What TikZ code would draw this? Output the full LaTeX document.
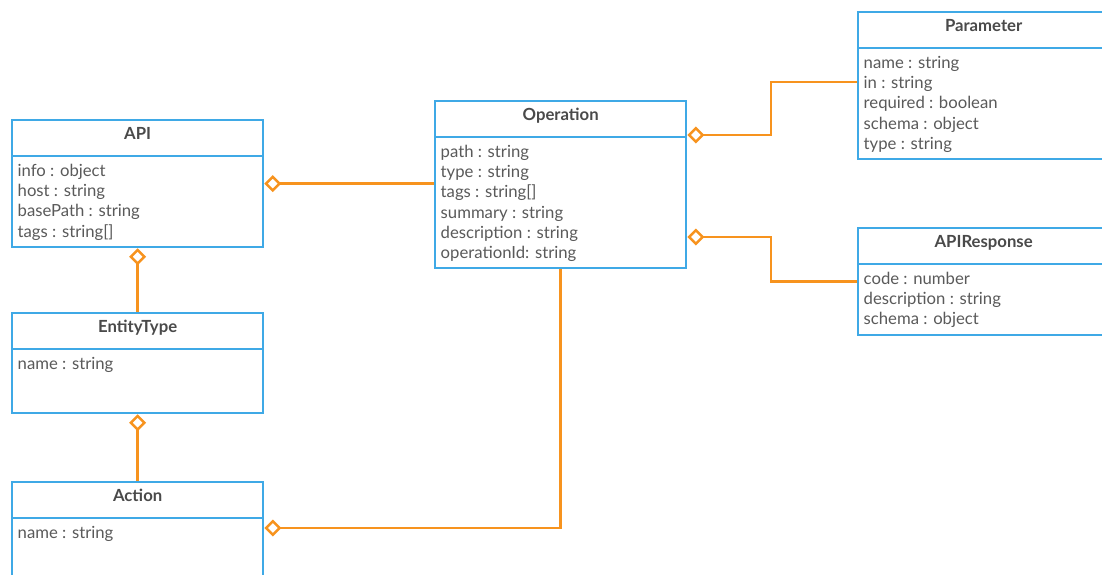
\documentclass[tikz,border=0pt]{standalone}
\usepackage{fontspec}
\setmainfont{Lato}
\usetikzlibrary{arrows.meta,calc}
\definecolor{umlblue}{HTML}{3FA9E6}
\definecolor{umlorange}{HTML}{F7931E}
\definecolor{umltext}{HTML}{5A5A5A}
\definecolor{umltitle}{HTML}{4A4A4A}

% One UML class: name, x, y (top left), height, title, attribute list
\newcommand\umlclass[6]{%
  \node[classbox, minimum height=#4pt] (#1) at (#2,#3) {};
  \draw[divider] ($(#1.north west)+(0,37)$) -- ($(#1.north east)+(0,37)$);
  \node[classtitle] (#1-title) at ($(#1.north)+(0,20.5)$) {#5};
  \foreach \attrtext [count=\i] in {#6}
    \node[attr] (#1-attr\i) at ($(#1.north west)+(6.5,{37+20.3*\i})$) {\attrtext};
}

\begin{document}
\begin{tikzpicture}[x=1pt,y=-1pt,
  classbox/.style={draw=umlblue, line width=2.3pt, fill=white, rectangle,
    anchor=north west, inner sep=0pt, minimum width=251pt},
  classtitle/.style={text=umltitle, font=\fontsize{16.7}{20}\selectfont\bfseries,
    anchor=base, inner sep=0pt},
  attr/.style={text=umltext, font=\fontsize{16.7}{20}\selectfont,
    anchor=base west, inner sep=0pt},
  divider/.style={draw=umlblue, line width=2.3pt},
  assoc/.style={draw=umlorange, line width=2.5pt,
    -{Diamond[open, length=17pt, width=17pt]}}
]
\clip (0,0) rectangle (1102,575);

\umlclass{api}{11}{119}{127}{API}{info : object, host : string, basePath : string, tags : string[]}
\umlclass{ent}{11}{312}{100}{EntityType}{name : string}
\umlclass{act}{11}{481}{100}{Action}{name : string}
\umlclass{op}{434}{100}{167}{Operation}{path : string, type : string, tags : string[], summary : string, description : string, operationId: string}
\umlclass{param}{857}{11}{147}{Parameter}{name : string, in : string, required : boolean, schema : object, type : string}
\umlclass{apir}{857}{227}{107}{APIResponse}{code : number, description : string, schema : object}

% ports on the box sides
\coordinate (actport) at ($(act.north east)+(0,47)$);
\coordinate (opport1) at ($(op.north east)+(0,35)$);
\coordinate (opport2) at ($(op.north east)+(0,137)$);
\coordinate (parport) at ($(param.north west)+(0,71)$);

% aggregations (diamond at the owning class)
\draw[assoc] (api.east -| op.west) -- (api.east);
\draw[assoc] (ent.north) -- (api.south);
\draw[assoc] (act.north) -- (ent.south);
\draw[assoc] (op.south) |- (actport);
\draw[assoc] (parport) -- ++(-86,0) |- (opport1);
\draw[assoc] (apir.west) -- ++(-86,0) |- (opport2);
\end{tikzpicture}
\end{document}
